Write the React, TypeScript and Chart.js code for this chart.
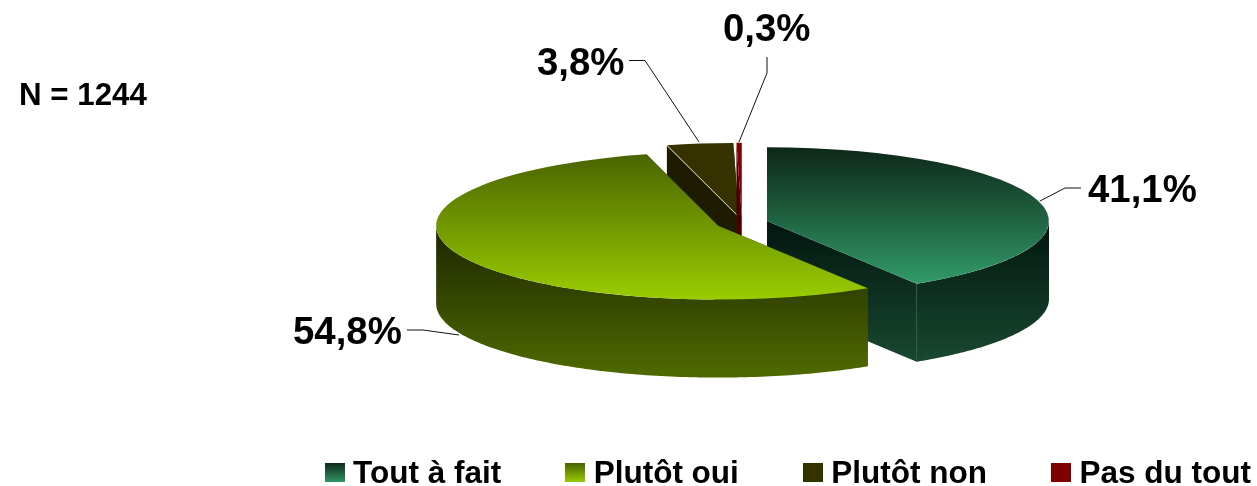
import React, { useEffect, useRef } from "react";
import { Chart, registerables } from "chart.js";

Chart.register(...registerables);

const categories = ["Tout à fait", "Plutôt oui", "Plutôt non", "Pas du tout"];
const shares = [41.1, 54.8, 3.8, 0.3];
const noteText = "N = 1244";

const FONT = "'Liberation Sans', Arial, sans-serif";
const W = 1257;
const H = 486;
const CX = 742;
const CY = 223;
const TILT = 0.262;
const DEPTH = 78;
const RADIUS = 282;

type Paint = { top: [string, string] | string; wall: [string, string]; face: [string, string]; legend: [string, string] | string };
const paints: Paint[] = [
  { top: ["#0d2618", "#319a68"], wall: ["#021710", "#1b4c33"], face: ["#021710", "#1b4c33"], legend: ["#0f2a1a", "#2f9565"] },
  { top: ["#496300", "#99cc00"], wall: ["#1c2500", "#4e6800"], face: ["#1c2500", "#4e6800"], legend: ["#4a6400", "#99cc00"] },
  { top: "#353200", wall: ["#1e1c00", "#1e1c00"], face: ["#1e1c00", "#1e1c00"], legend: "#333300" },
  { top: "#800000", wall: ["#4a0000", "#4a0000"], face: ["#4a0000", "#4a0000"], legend: "#800000" },
];
const TOP_RANGE: [number, number][] = [[147, 283], [153, 298], [143, 217], [143, 217]];
const WALL_RANGE: [number, number] = [226, 372];
const explode = [26, 26, 24, 24];
const drawOrder = [2, 3, 0, 1];

const labelBoxes = [
  { x: 1088, y: 191, line: [[1081, 188], [1065, 188], [1040, 201]] },
  { x: 293, y: 333, line: [[407, 330], [423, 330], [459, 335]] },
  { x: 537, y: 64, line: [[629, 60.5], [645, 60.5], [699, 142]] },
  { x: 723, y: 30, line: [[767, 57], [767, 73], [739, 142]] },
];

const fmt = (v: number) => v.toFixed(1).replace(".", ",") + "%";

function swatch(paint: [string, string] | string) {
  const c = document.createElement("canvas");
  c.width = 20;
  c.height = 23;
  const x = c.getContext("2d")!;
  if (typeof paint === "string") x.fillStyle = paint;
  else {
    const g = x.createLinearGradient(0, 0, 0, 19);
    g.addColorStop(0, paint[0]);
    g.addColorStop(1, paint[1]);
    x.fillStyle = g;
  }
  x.fillRect(0, 0, 20, 19);
  return c;
}

const piePlugin = {
  id: "tiltedPie",
  afterLayout(chart: any) {
    const l = chart.legend;
    if (!l) return;
    const p = l.options.labels.padding;
    l.left = 331.75 - p;
    l.right = 1600;
    l.top = 474.5 - 15.75 - p;
    l.bottom = 486;
  },
  beforeDatasetDraw(chart: any) {
    const ctx: CanvasRenderingContext2D = chart.ctx;
    const arcs = chart.getDatasetMeta(0).data;
    const x0 = arcs[0].x;
    const y0 = arcs[0].y;
    const proj = (x: number, y: number): [number, number] => [CX + (x - x0), CY + (y - y0) * TILT];

    for (const i of drawOrder) {
      const arc = arcs[i];
      const { startAngle: a, endAngle: b, outerRadius: r } = arc;
      const h = (a + b) / 2;
      const dx = Math.cos(h) * explode[i];
      const dy = Math.sin(h) * explode[i];
      const ax = x0 + dx;
      const ay = y0 + dy;
      const rim = (t: number) => proj(ax + Math.cos(t) * r, ay + Math.sin(t) * r);
      const apex = proj(ax, ay);
      const gradient = (pair: [string, string]) => {
        const g = ctx.createLinearGradient(0, WALL_RANGE[0], 0, WALL_RANGE[1]);
        g.addColorStop(0, pair[0]);
        g.addColorStop(1, pair[1]);
        return g;
      };

      // cut faces
      for (const t of [a, b]) {
        const e = rim(t);
        ctx.beginPath();
        ctx.moveTo(apex[0], apex[1]);
        ctx.lineTo(e[0], e[1]);
        ctx.lineTo(e[0], e[1] + DEPTH);
        ctx.lineTo(apex[0], apex[1] + DEPTH);
        ctx.closePath();
        ctx.fillStyle = gradient(paints[i].face);
        ctx.fill();
      }

      // outer wall (front half only)
      const from = Math.max(a, 0);
      const to = Math.min(b, Math.PI);
      if (to > from) {
        const n = 120;
        ctx.beginPath();
        for (let k = 0; k <= n; k++) {
          const p = rim(from + ((to - from) * k) / n);
          if (k === 0) ctx.moveTo(p[0], p[1]);
          else ctx.lineTo(p[0], p[1]);
        }
        for (let k = n; k >= 0; k--) {
          const p = rim(from + ((to - from) * k) / n);
          ctx.lineTo(p[0], p[1] + DEPTH);
        }
        ctx.closePath();
        ctx.fillStyle = gradient(paints[i].wall);
        ctx.fill();
      }

      // corner seam on the first slice
      if (i === 0) {
        const e = rim(b);
        ctx.beginPath();
        ctx.moveTo(e[0], e[1]);
        ctx.lineTo(e[0], e[1] + DEPTH);
        ctx.strokeStyle = "#2f5c46";
        ctx.lineWidth = 1;
        ctx.stroke();
      }

      // top face, drawn by the library's arc element under a tilt
      ctx.save();
      ctx.translate(CX, CY);
      ctx.scale(1, TILT);
      ctx.translate(dx - x0, dy - y0);
      arc.draw(ctx);
      ctx.restore();

      // pale seam on the small back slice
      if (i === 2) {
        const e = rim(a);
        ctx.beginPath();
        ctx.moveTo(e[0], e[1]);
        ctx.lineTo(apex[0], apex[1]);
        ctx.strokeStyle = "#e6e2c8";
        ctx.lineWidth = 1;
        ctx.stroke();
      }
    }
    return false;
  },
  afterDatasetsDraw(chart: any) {
    const ctx: CanvasRenderingContext2D = chart.ctx;
    ctx.save();
    labelBoxes.forEach((b, i) => {
      ctx.beginPath();
      b.line.forEach((p, k) => (k ? ctx.lineTo(p[0], p[1]) : ctx.moveTo(p[0], p[1])));
      ctx.strokeStyle = "#111";
      ctx.lineWidth = 1;
      ctx.stroke();
      ctx.fillStyle = "#000";
      ctx.font = `bold 38.4px ${FONT}`;
      ctx.textAlign = "left";
      ctx.textBaseline = "middle";
      ctx.fillText(fmt(shares[i]), b.x, b.y);
    });
    ctx.font = `bold 31.3px ${FONT}`;
    ctx.fillStyle = "#000";
    ctx.textBaseline = "middle";
    ctx.fillText(noteText, 19, 96);
    ctx.restore();
  },
};

export default function App() {
  const ref = useRef<HTMLCanvasElement>(null);
  useEffect(() => {
    document.body.style.margin = "0";
    const swatches = paints.map((p) => swatch(p.legend));
    const chart = new Chart(ref.current!, {
      type: "pie",
      data: {
        labels: categories,
        datasets: [
          {
            data: shares,
            borderWidth: 0,
            clip: false,
            backgroundColor: (c: any) => {
              const i = c.dataIndex ?? 0;
              const paint = paints[i].top;
              if (typeof paint === "string") return paint;
              const area = c.chart.chartArea;
              if (!area) return paint[1];
              const y0 = (area.top + area.bottom) / 2;
              const h = -Math.PI / 2 + (i === 0 ? shares[0] / 2 : shares[0] + shares[1] / 2) / 100 * 2 * Math.PI;
              const toPie = (ys: number) => y0 + (ys - CY) / TILT - Math.sin(h) * explode[i];
              const g = c.chart.ctx.createLinearGradient(0, toPie(TOP_RANGE[i][0]), 0, toPie(TOP_RANGE[i][1]));
              g.addColorStop(0, paint[0]);
              g.addColorStop(1, paint[1]);
              return g;
            },
          } as any,
        ],
      },
      options: {
        responsive: false,
        animation: false,
        events: [],
        radius: RADIUS,
        plugins: {
          tooltip: { enabled: false },
          legend: {
            display: true,
            position: "bottom",
            align: "start",
            labels: {
              usePointStyle: true,
              pointStyleWidth: 5.5,
              padding: 71.25,
              color: "#000",
              font: { family: FONT, size: 31.5, weight: "bold" },
              generateLabels: () =>
                categories.map((text, index) => ({
                  text,
                  index,
                  hidden: false,
                  pointStyle: swatches[index],
                  fillStyle: "#000",
                  strokeStyle: "#000",
                  lineWidth: 0,
                })),
            },
          },
        },
      } as any,
      plugins: [piePlugin as any],
    });
    return () => chart.destroy();
  }, []);
  return (
    <div style={{ position: "fixed", left: 0, top: 0, width: W, height: H }}>
      <canvas ref={ref} width={W} height={H} style={{ display: "block" }} />
    </div>
  );
}
